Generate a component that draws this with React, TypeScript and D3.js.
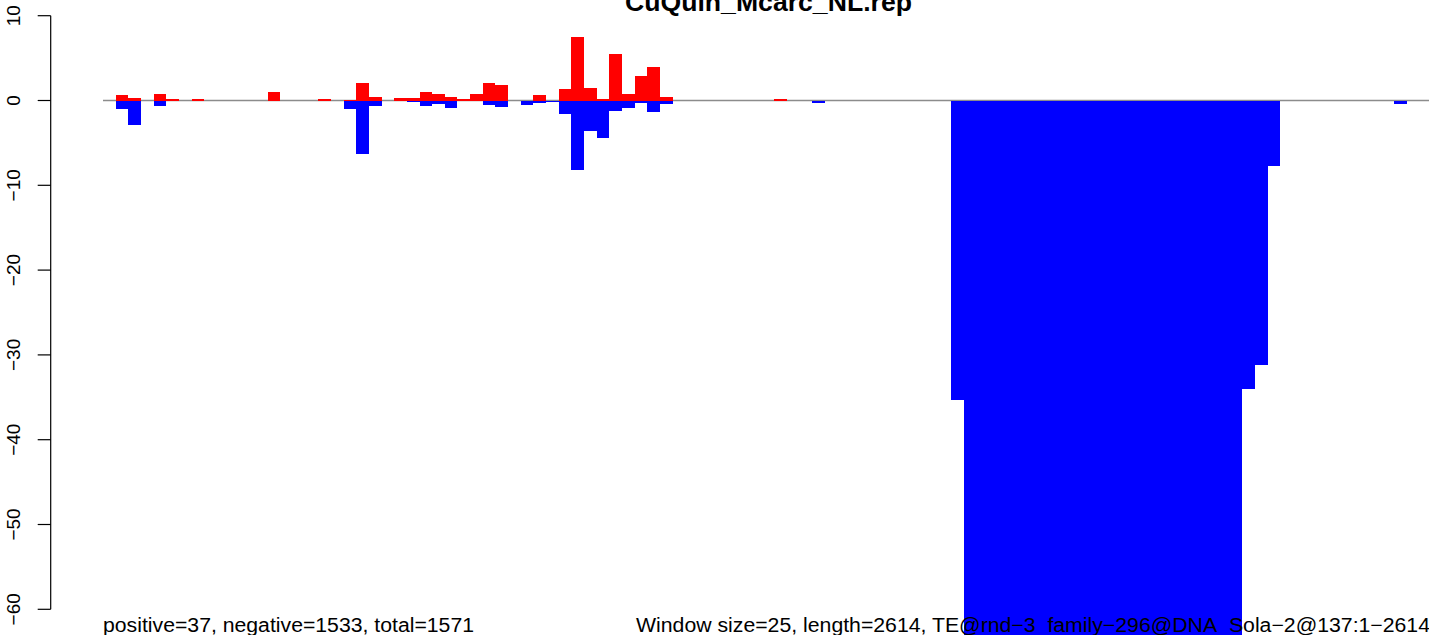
import React from "react";
import * as d3 from "d3";

// window index (0..104) -> value; windows not listed are zero
const positiveIdx = [1, 2, 4, 5, 7, 13, 17, 19, 20, 21, 23, 24, 25, 26, 27, 28, 29, 30, 31, 34, 36, 37, 38, 39, 40, 41, 42, 43, 44, 53];
const positiveVal = [0.63, 0.35, 0.71, 0.12, 0.12, 0.95, 0.15, 0.1, 2.05, 0.47, 0.27, 0.27, 0.98, 0.74, 0.39, 0.15, 0.74, 2.05, 1.81, 0.63, 1.34, 7.5, 1.45, 0.15, 5.5, 0.74, 2.9, 3.95, 0.39, 0.15];

const negativeIdx = [1, 2, 4, 7, 13, 19, 20, 21, 24, 25, 26, 27, 28, 29, 30, 31, 33, 34, 35, 36, 37, 38, 39, 40, 41, 42, 43, 44, 46, 56, 57, 66, 67, 68, 69, 70, 71, 72, 73, 74, 75, 76, 77, 78, 79, 80, 81, 82, 83, 84, 85, 86, 87, 88, 89, 90, 91, 92, 98, 99, 100, 102];
const negativeVal = [-1.06, -2.84, -0.59, -0.1, -0.08, -0.95, -6.35, -0.6, -0.2, -0.67, -0.44, -0.91, -0.08, -0.08, -0.55, -0.79, -0.55, -0.32, -0.2, -1.62, -8.2, -3.63, -4.46, -1.26, -0.91, -0.3, -1.4, -0.44, -0.1, -0.32, -0.1, -0.1, -35.3, -70, -70, -70, -70, -70, -70, -70, -70, -70, -70, -70, -70, -70, -70, -70, -70, -70, -70, -70, -70, -70, -70, -34.0, -31.2, -7.7, -0.08, -0.08, -0.08, -0.44];

const nWindows = 105;
const yTicks = [10, 0, -10, -20, -30, -40, -50, -60];
const titleText = "CuQuin_Mcarc_NL.rep";
const footLeft = "positive=37, negative=1533, total=1571";
const footRight = "Window size=25, length=2614, TE@rnd\u22123_family\u2212296@DNA_Sola\u22122@137:1\u22122614";

const fmt = (v: number) => (v < 0 ? "\u2212" + Math.abs(v) : String(v));

export default function App() {
  const W = 1429;
  const H = 635;
  const x = d3.scaleLinear().domain([0, nWindows]).range([103, 103 + nWindows * 12.66]);
  const y = d3.scaleLinear().domain([-60, 10]).range([609.3, 15.7]);
  const font = "'Liberation Sans', Arial, sans-serif";
  const axisX = 50.7;

  const bar = (k: number, v: number, color: string, key: string) => {
    const y0 = y(0);
    const y1 = y(v);
    return (
      <rect
        key={key}
        x={x(k)}
        width={x(k + 1) - x(k)}
        y={Math.min(y0, y1)}
        height={Math.abs(y1 - y0)}
        fill={color}
        shapeRendering="crispEdges"
      />
    );
  };

  return (
    <svg
      width={W}
      height={H}
      style={{ position: "absolute", left: 0, top: 0, background: "#fff" }}
      fontFamily={font}
    >
      <line x1={x(0)} x2={W} y1={y(0)} y2={y(0)} stroke="#8c8c8c" strokeWidth={1.3} />
      {positiveIdx.map((k, i) => bar(k, positiveVal[i], "#ff0000", "p" + k))}
      {negativeIdx.map((k, i) => bar(k, negativeVal[i], "#0000ff", "n" + k))}

      {/* y axis */}
      <line x1={axisX} x2={axisX} y1={y(10)} y2={y(-60)} stroke="#000" strokeWidth={1.2} />
      {yTicks.map((t) => (
        <g key={t}>
          <line x1={axisX - 13} x2={axisX} y1={y(t)} y2={y(t)} stroke="#000" strokeWidth={1.2} />
          <text
            transform={`translate(20,${y(t)}) rotate(-90)`}
            textAnchor="middle"
            fontSize={19}
            fill="#000"
          >
            {fmt(t)}
          </text>
        </g>
      ))}

      <text x={625} y={11} fontSize={25} fontWeight="bold" fill="#000" textLength={287} lengthAdjust="spacingAndGlyphs">
        {titleText}
      </text>
      <text x={103} y={632} fontSize={20} fill="#000" textLength={371} lengthAdjust="spacingAndGlyphs">
        {footLeft}
      </text>
      <text x={636} y={632} fontSize={20} fill="#000" textLength={794} lengthAdjust="spacingAndGlyphs">
        {footRight}
      </text>
    </svg>
  );
}
